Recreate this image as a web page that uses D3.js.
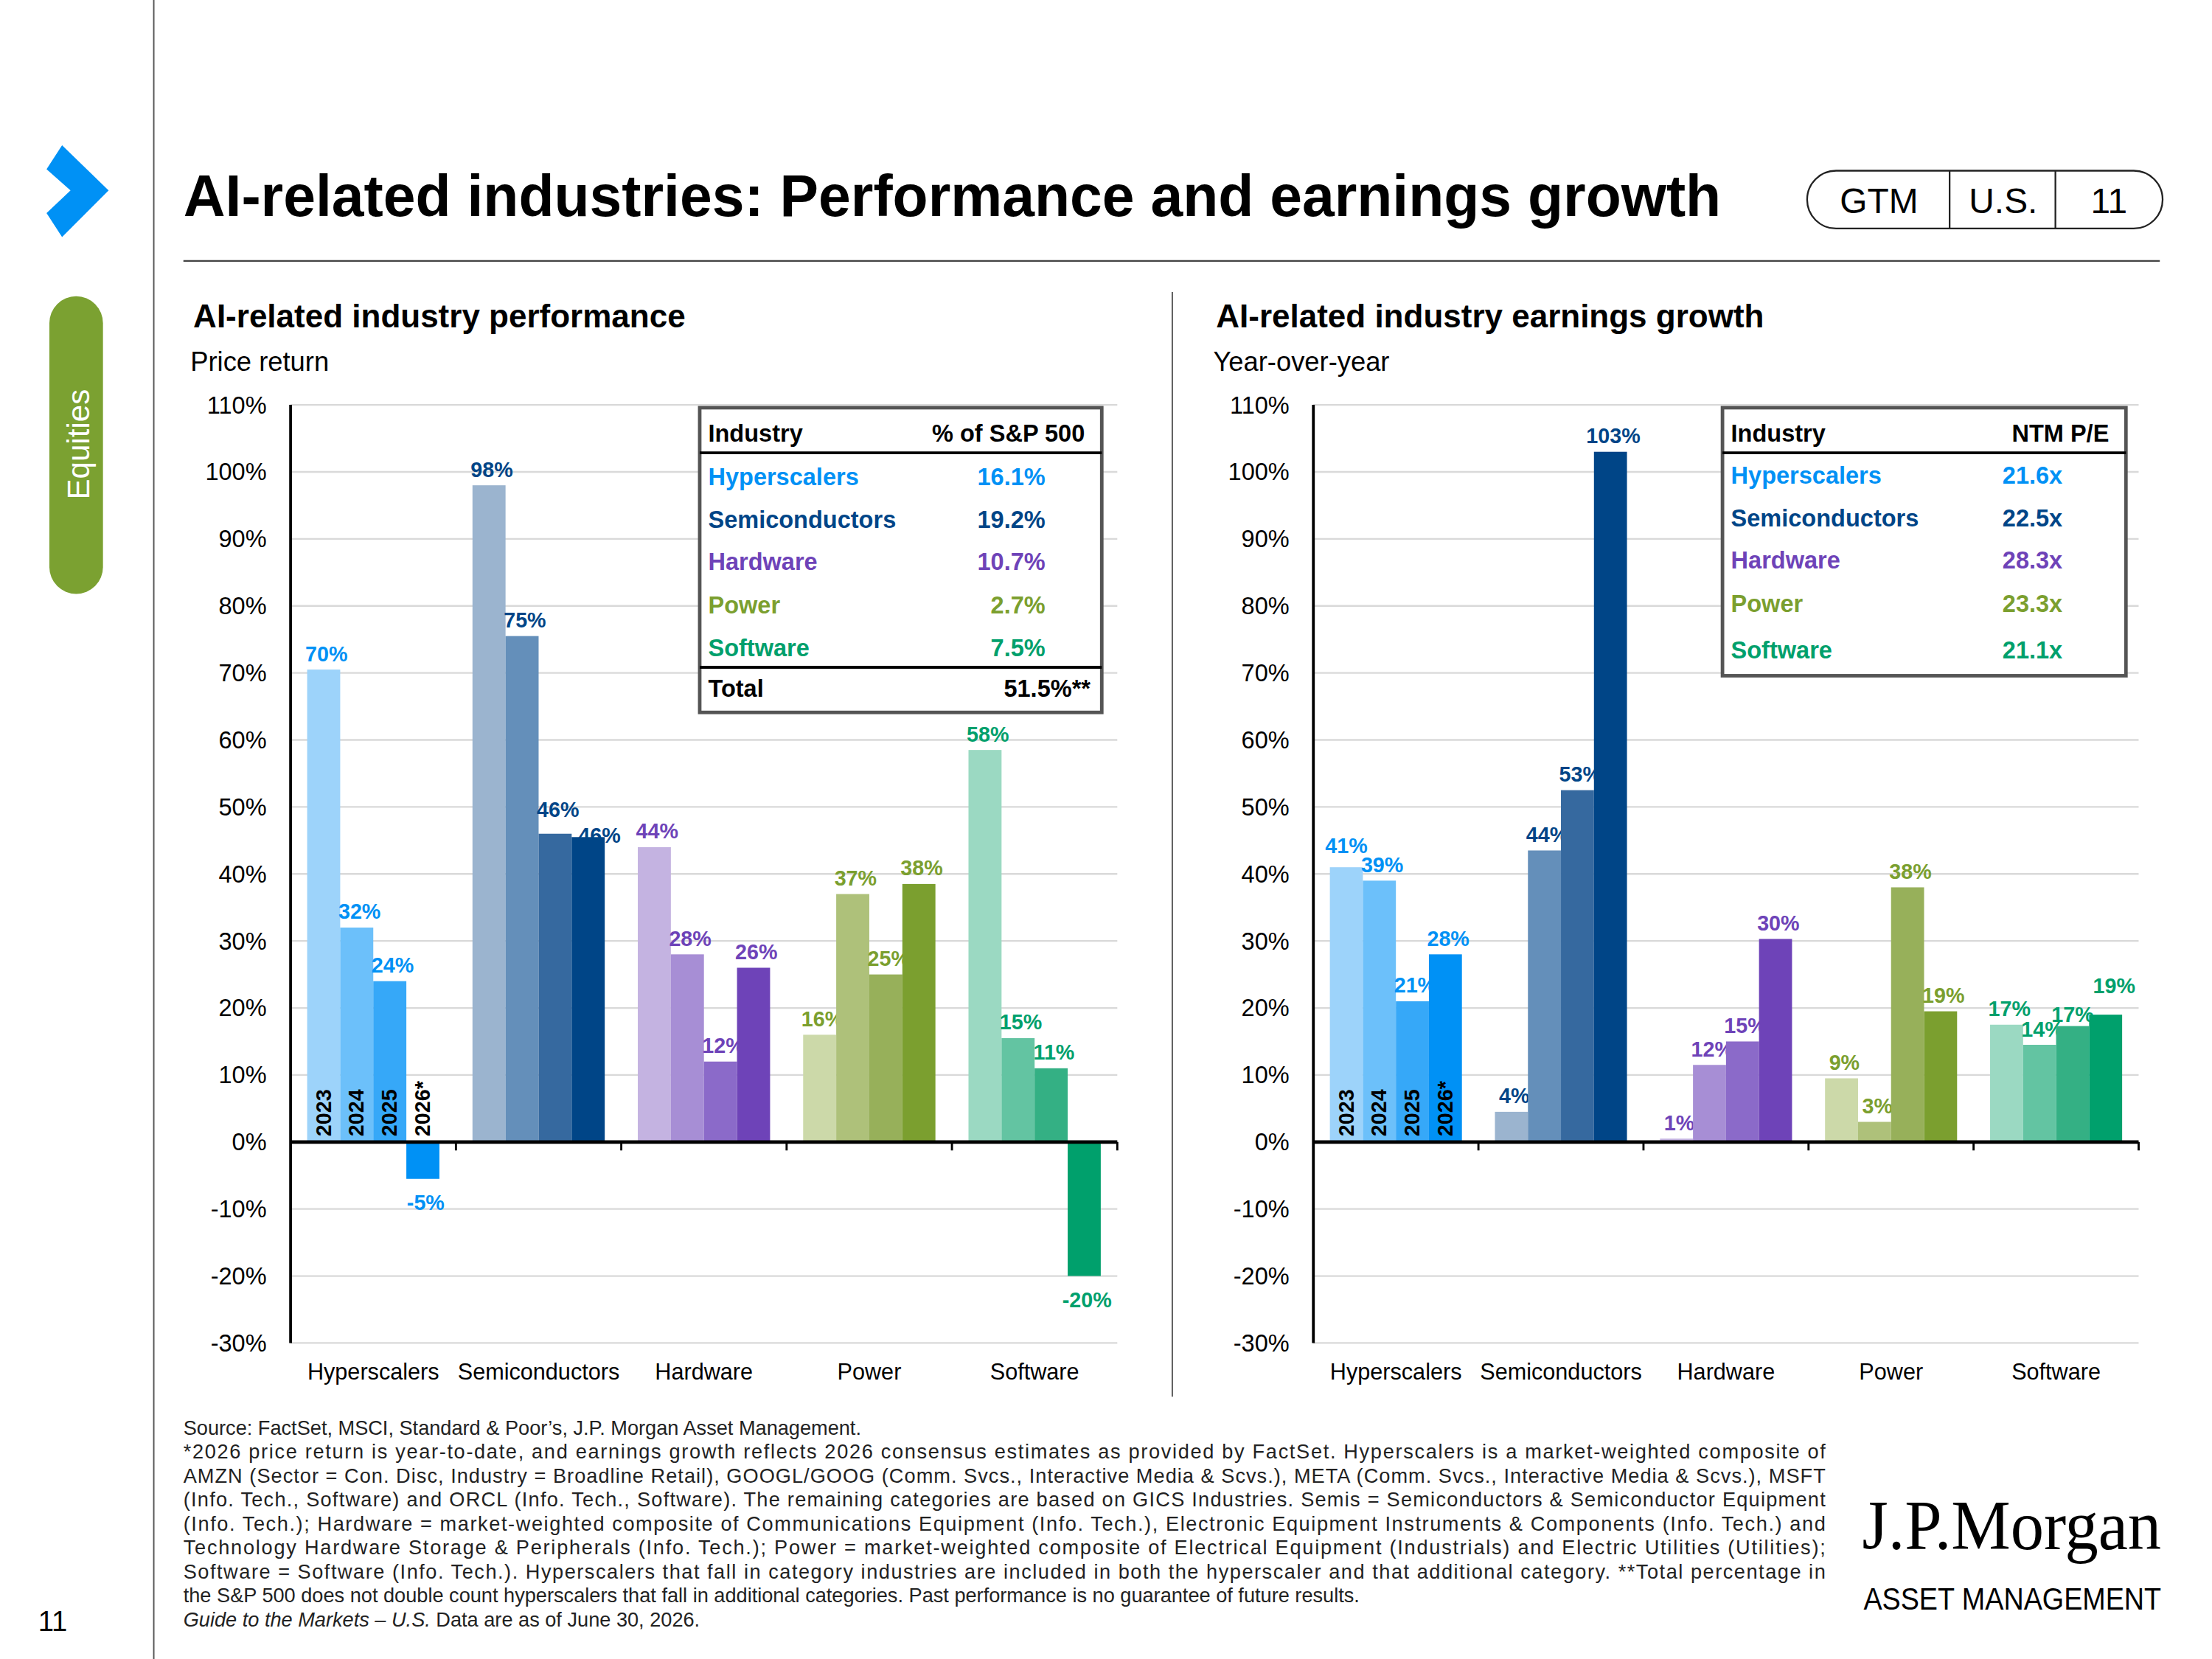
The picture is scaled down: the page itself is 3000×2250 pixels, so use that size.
<!DOCTYPE html>
<html><head><meta charset="utf-8">
<script src="https://cdn.jsdelivr.net/npm/d3@7"></script>
<style>body{margin:0;background:#fff}svg{display:block}</style>
</head><body>
<script>
const categories = ["Hyperscalers","Semiconductors","Hardware","Power","Software"];
const years = ["2023","2024","2025","2026*"];
const perfValues = [[70.5,32,24,-5.5],[98,75.5,46,45.5],[44,28,12,26],[16,37,25,38.5],[58.5,15.5,11,-20]];
const perfLabels = [["70%","32%","24%","-5%"],["98%","75%","46%","46%"],["44%","28%","12%","26%"],["16%","37%","25%","38%"],["58%","15%","11%","-20%"]];
const earnValues = [[41,39,21,28],[4.5,43.5,52.5,103],[0.5,11.5,15,30.3],[9.5,3,38,19.5],[17.5,14.5,17.3,19]];
const earnLabels = [["41%","39%","21%","28%"],["4%","44%","53%","103%"],["1%","12%","15%","30%"],["9%","3%","38%","19%"],["17%","14%","17%","19%"]];
const yTicks = [110,100,90,80,70,60,50,40,30,20,10,0,-10,-20,-30];
const tableLeftHeader = ["Industry","% of S&P 500"];
const tableLeftValues = ["16.1%","19.2%","10.7%","2.7%","7.5%"];
const tableLeftTotal = ["Total","51.5%**"];
const tableRightHeader = ["Industry","NTM P/E"];
const tableRightValues = ["21.6x","22.5x","28.3x","23.3x","21.1x"];
const palette = [["#9DD3FA","#6CC0FA","#36A8F8","#0091F5"],["#9BB4CF","#648FBA","#36699F","#004587"],["#C4B3E1","#A78ED5","#8B6AC9","#6E43B8"],["#CCD9A9","#AEC17A","#97B05A","#7B9F2F"],["#9BD9C2","#63C4A2","#34B084","#00A06C"]];
const labelColors = ["#0091F5","#004587","#6E43B8","#7B9F2F","#00A06C"];
const footLines = [
"Source: FactSet, MSCI, Standard & Poor’s, J.P. Morgan Asset Management.",
"*2026 price return is year-to-date, and earnings growth reflects 2026 consensus estimates as provided by FactSet. Hyperscalers is a market-weighted composite of",
"AMZN (Sector = Con. Disc, Industry = Broadline Retail), GOOGL/GOOG (Comm. Svcs., Interactive Media & Scvs.), META (Comm. Svcs., Interactive Media & Scvs.), MSFT",
"(Info. Tech., Software) and ORCL (Info. Tech., Software). The remaining categories are based on GICS Industries. Semis = Semiconductors & Semiconductor Equipment",
"(Info. Tech.); Hardware = market-weighted composite of Communications Equipment (Info. Tech.), Electronic Equipment Instruments & Components (Info. Tech.) and",
"Technology Hardware Storage & Peripherals (Info. Tech.); Power = market-weighted composite of Electrical Equipment (Industrials) and Electric Utilities (Utilities);",
"Software = Software (Info. Tech.). Hyperscalers that fall in category industries are included in both the hyperscaler and that additional category. **Total percentage in",
"the S&P 500 does not double count hyperscalers that fall in additional categories. Past performance is no guarantee of future results."
];
const SANS = '"Liberation Sans",Arial,sans-serif';

const svg = d3.select("body").append("svg").attr("width",3000).attr("height",2250).attr("viewBox","0 0 1568 1176").style("font-family",SANS);

svg.append("line").attr("x1",109).attr("x2",109).attr("y1",0).attr("y2",1176).attr("stroke","#555").attr("stroke-width",1);
svg.append("path").attr("d","M33,120 L44,103 L77,135 L44,168 L33,151 L50,135 Z").attr("fill","#0091F5");
svg.append("rect").attr("x",35).attr("y",210).attr("width",38).attr("height",211).attr("rx",19).attr("fill","#7BA131");
svg.append("text").attr("transform","translate(63,315) rotate(-90)").attr("text-anchor","middle").attr("fill","#fff").attr("font-size",22).text("Equities");
svg.append("text").attr("x",27).attr("y",1156).attr("font-size",20).text("11");

svg.append("text").attr("x",130).attr("y",153).attr("font-size",42).attr("font-weight","bold").attr("textLength",1090).attr("lengthAdjust","spacingAndGlyphs").text("AI-related industries: Performance and earnings growth");
svg.append("line").attr("x1",130).attr("x2",1531).attr("y1",185).attr("y2",185).attr("stroke","#444").attr("stroke-width",1.2);
svg.append("rect").attr("x",1281).attr("y",121).attr("width",252).attr("height",41).attr("rx",20.5).attr("fill","none").attr("stroke","#222").attr("stroke-width",1.2);
[1382,1457].forEach(x=>svg.append("line").attr("x1",x).attr("x2",x).attr("y1",121).attr("y2",162).attr("stroke","#222").attr("stroke-width",1.2));
[["GTM",1332],["U.S.",1420],["11",1495]].forEach(([t,x])=>svg.append("text").attr("x",x).attr("y",151).attr("text-anchor","middle").attr("font-size",25).text(t));
svg.append("line").attr("x1",831).attr("x2",831).attr("y1",207).attr("y2",990).attr("stroke","#555").attr("stroke-width",1);

function chart(x0, x1, title, sub, values, labels, nudges){
  const titleX = x0 - 69;
  svg.append("text").attr("x",titleX).attr("y",232).attr("font-size",23).attr("font-weight","bold").text(title);
  svg.append("text").attr("x",titleX-2).attr("y",263).attr("font-size",19).text(sub);
  const y = d3.scaleLinear().domain([-30,110]).range([952,287]);
  const xb = d3.scaleBand().domain(categories).range([x0,x1]).paddingInner(0.2).paddingOuter(0.1);
  const xi = d3.scaleBand().domain(years).range([0,xb.bandwidth()]);
  const g = svg.append("g");
  g.selectAll(".grid").data(yTicks).join("line").attr("x1",x0).attr("x2",x1).attr("y1",d=>y(d)).attr("y2",d=>y(d)).attr("stroke","#d9d9d9").attr("stroke-width",1.2);
  g.selectAll(".yt").data(yTicks).join("text").attr("x",x0-17).attr("y",d=>y(d)+6).attr("text-anchor","end").attr("font-size",17).text(d=>d+"%");
  categories.forEach((c,ci)=>{
    values[ci].forEach((v,i)=>{
      const bx = xb(c)+xi(years[i]);
      const n = nudges[ci+"-"+i] || [0,0];
      g.append("rect").attr("x",bx).attr("width",xi.bandwidth()).attr("y",y(Math.max(0,v))).attr("height",Math.abs(y(v)-y(0))).attr("fill",palette[ci][i]);
      g.append("text").attr("x",bx+xi.bandwidth()/2+2+n[0]).attr("y",(v>=0?y(v)-6:y(v)+22)+n[1]).attr("text-anchor","middle").attr("font-size",15).attr("font-weight","bold").attr("fill",labelColors[ci]).text(labels[ci][i]);
      if(ci===0){
        g.append("text").attr("transform",`translate(${bx+xi.bandwidth()/2+5},${y(0)-4}) rotate(-90)`).attr("font-size",15).attr("font-weight","bold").attr("fill","#000").text(years[i]);
      }
    });
    g.append("text").attr("x",xb(c)+xb.bandwidth()/2).attr("y",978).attr("text-anchor","middle").attr("font-size",16).text(c);
  });
  g.append("line").attr("x1",x0).attr("x2",x0).attr("y1",287).attr("y2",952).attr("stroke","#000").attr("stroke-width",2);
  g.append("line").attr("x1",x0).attr("x2",x1).attr("y1",y(0)).attr("y2",y(0)).attr("stroke","#000").attr("stroke-width",2.5);
  const step = xb.step();
  categories.forEach((c,ci)=>{ const tx = x0+step*(ci+1); g.append("line").attr("x1",tx).attr("x2",tx).attr("y1",y(0)).attr("y2",y(0)+6).attr("stroke","#000").attr("stroke-width",1.5); });
}
chart(206,792,"AI-related industry performance","Price return",perfValues,perfLabels,{"1-2":[0,-6],"1-3":[6,10]});
chart(931,1516,"AI-related industry earnings growth","Year-over-year",earnValues,earnLabels,{"0-0":[-2,-4],"4-3":[4,-9],"4-2":[-2,3]});

function table(x,w,h,header,vals,valRight,total,rowYs){
  const g = svg.append("g");
  g.append("rect").attr("x",x).attr("y",289).attr("width",w).attr("height",h).attr("fill","#fff").attr("stroke","#555").attr("stroke-width",2.5);
  g.append("text").attr("x",x+6).attr("y",313).attr("font-size",17).attr("font-weight","bold").text(header[0]);
  g.append("text").attr("x",x+w-12).attr("y",313).attr("text-anchor","end").attr("font-size",17).attr("font-weight","bold").text(header[1]);
  g.append("line").attr("x1",x).attr("x2",x+w).attr("y1",321).attr("y2",321).attr("stroke","#000").attr("stroke-width",2);
  categories.forEach((c,i)=>{
    g.append("text").attr("x",x+6).attr("y",rowYs[i]).attr("font-size",17).attr("font-weight","bold").attr("fill",labelColors[i]).text(c);
    g.append("text").attr("x",x+valRight).attr("y",rowYs[i]).attr("text-anchor","end").attr("font-size",17).attr("font-weight","bold").attr("fill",labelColors[i]).text(vals[i]);
  });
  if(total){
    g.append("line").attr("x1",x).attr("x2",x+w).attr("y1",473).attr("y2",473).attr("stroke","#000").attr("stroke-width",2);
    g.append("text").attr("x",x+6).attr("y",494).attr("font-size",17).attr("font-weight","bold").text(total[0]);
    g.append("text").attr("x",x+w-8).attr("y",494).attr("text-anchor","end").attr("font-size",17).attr("font-weight","bold").text(total[1]);
  }
}
table(496,285,216,tableLeftHeader,tableLeftValues,245,tableLeftTotal,[344,374,404,435,465]);
table(1221,286,190,tableRightHeader,tableRightValues,241,null,[343,373,403,434,467]);

const ft = svg.append("g");
footLines.forEach((t,i)=>{
  const tx = ft.append("text").attr("x",130).attr("y",1017+i*17).attr("font-size",14.2).attr("fill","#222").text(t);
  if(i>0 && i<7) tx.attr("textLength",1164).attr("lengthAdjust","spacing");
});
const last = ft.append("text").attr("x",130).attr("y",1153).attr("font-size",14.2).attr("fill","#222");
last.append("tspan").attr("font-style","italic").text("Guide to the Markets – U.S.");
last.append("tspan").text(" Data are as of June 30, 2026.");

svg.append("text").attr("x",1320).attr("y",1098).style("font-family",'"Liberation Serif","DejaVu Serif",serif').attr("font-size",50).attr("textLength",212).attr("lengthAdjust","spacingAndGlyphs").text("J.P.Morgan");
svg.append("text").attr("x",1321).attr("y",1141).attr("font-size",22).attr("textLength",211).attr("lengthAdjust","spacingAndGlyphs").text("ASSET MANAGEMENT");
</script>
</body></html>
